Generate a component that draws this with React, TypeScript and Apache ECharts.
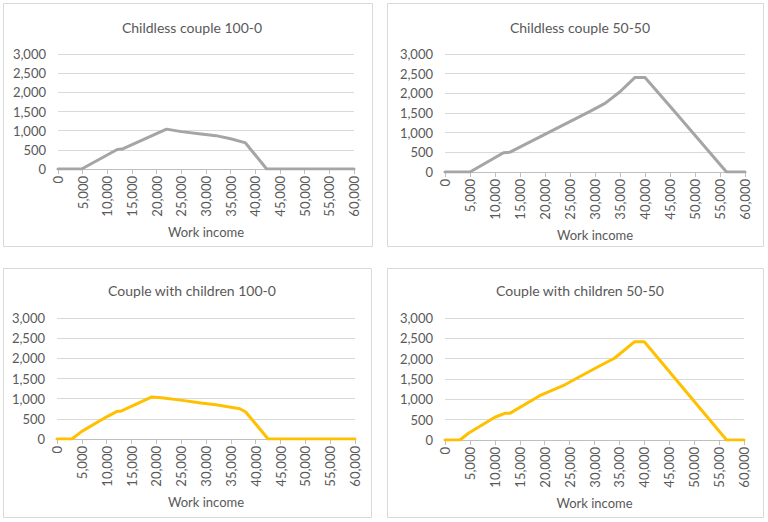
import React, { useEffect, useRef } from "react";
import * as echarts from "echarts";

const titles = [
  "Childless couple 100-0",
  "Childless couple 50-50",
  "Couple with children 100-0",
  "Couple with children 50-50",
];
const xAxisName = "Work income";

const childless100Income = [0, 4800, 12000, 13000, 22000, 25000, 29000, 32000, 35000, 37500, 38000, 42300, 60000];
const childless100Value = [0, 0, 510, 520, 1040, 975, 915, 870, 790, 700, 680, 0, 0];

const childless5050Income = [0, 5000, 11700, 13000, 29000, 32000, 35000, 38000, 40000, 45700, 56300, 60000];
const childless5050Value = [0, 0, 490, 505, 1540, 1745, 2040, 2405, 2405, 1570, 0, 0];

const children100Income = [0, 3000, 5000, 10000, 12000, 13000, 19000, 21000, 24500, 29000, 32000, 36800, 38000, 42500, 60000];
const children100Value = [0, 0, 190, 550, 680, 695, 1040, 1025, 970, 890, 850, 750, 670, 0, 0];

const children5050Income = [0, 3000, 4700, 10000, 12000, 13000, 19000, 23700, 25800, 31000, 34000, 38000, 40000, 56500, 60000];
const children5050Value = [0, 0, 165, 560, 655, 655, 1090, 1335, 1475, 1820, 2010, 2415, 2415, 0, 0];

const yMin = 0;
const yMax = 3000;
const yStep = 500;
const xMin = 0;
const xMax = 60000;
const xStep = 5000;

const GRAY = "#a5a5a5";
const GOLD = "#ffc000";

const panels = [
  { box: [3, 3, 369, 243], grid: [58, 54, 296, 115], title: [187, 22], color: GRAY, xs: childless100Income, ys: childless100Value },
  { box: [387, 3, 376, 243], grid: [445, 54, 300, 118], title: [575, 22], color: GRAY, xs: childless5050Income, ys: childless5050Value },
  { box: [3, 268, 368, 249], grid: [57, 318, 298, 121], title: [187, 285], color: GOLD, xs: children100Income, ys: children100Value },
  { box: [387, 268, 376, 249], grid: [445, 318, 299, 122], title: [575, 285], color: GOLD, xs: children5050Income, ys: children5050Value },
];

const FONT = "Lato";
const TXT = "#595959";
const fmt = (v: number) => v.toLocaleString("en-US");

export default function App() {
  const ref = useRef<HTMLDivElement>(null);
  useEffect(() => {
    if (!ref.current) return;
    const chart = echarts.init(ref.current, null, { renderer: "svg" });
    const option: any = {
      animation: false,
      backgroundColor: "#ffffff",
      textStyle: { fontFamily: FONT },
      graphic: panels.map((p) => ({
        type: "rect",
        shape: { x: p.box[0] + 0.5, y: p.box[1] + 0.5, width: p.box[2], height: p.box[3] },
        style: { fill: "none", stroke: "#d9d9d9", lineWidth: 1 },
        silent: true,
      })),
      title: panels.map((p, i) => ({
        text: titles[i],
        left: p.title[0],
        top: p.title[1],
        textAlign: "center",
        textVerticalAlign: "middle",
        textStyle: { fontFamily: FONT, fontSize: 14, fontWeight: "normal", color: TXT },
      })),
      grid: panels.map((p) => ({
        left: p.grid[0],
        top: p.grid[1],
        width: p.grid[2],
        height: p.grid[3],
        containLabel: false,
      })),
      xAxis: panels.map((p, i) => ({
        type: "value",
        gridIndex: i,
        min: xMin,
        max: xMax,
        interval: xStep,
        name: xAxisName,
        nameLocation: "middle",
        nameGap: 56,
        nameTextStyle: { fontFamily: FONT, fontSize: 13, color: TXT },
        axisLine: { show: true, lineStyle: { color: "#bfbfbf", width: 1 } },
        axisTick: { show: true, length: 5, lineStyle: { color: "#bfbfbf" } },
        splitLine: { show: false },
        axisLabel: {
          rotate: 90,
          margin: 7,
          fontFamily: FONT,
          fontSize: 13,
          color: TXT,
          formatter: fmt,
        },
      })),
      yAxis: panels.map((p, i) => ({
        type: "value",
        gridIndex: i,
        min: yMin,
        max: yMax,
        interval: yStep,
        axisLine: { show: false },
        axisTick: { show: false },
        splitLine: { show: true, lineStyle: { color: "#d9d9d9", width: 1 } },
        axisLabel: { margin: 12, fontFamily: FONT, fontSize: 13, color: TXT, formatter: fmt },
      })),
      series: panels.map((p, i) => ({
        type: "line",
        xAxisIndex: i,
        yAxisIndex: i,
        data: p.xs.map((x, j) => [x, p.ys[j]]),
        showSymbol: false,
        symbol: "none",
        smooth: false,
        lineStyle: { color: p.color, width: 3, cap: "round", join: "round" },
        z: 3,
      })),
    };
    chart.setOption(option);
    return () => chart.dispose();
  }, []);
  return (
    <div
      ref={ref}
      style={{ position: "fixed", left: 0, top: 0, width: 768, height: 522, background: "#fff" }}
    />
  );
}
